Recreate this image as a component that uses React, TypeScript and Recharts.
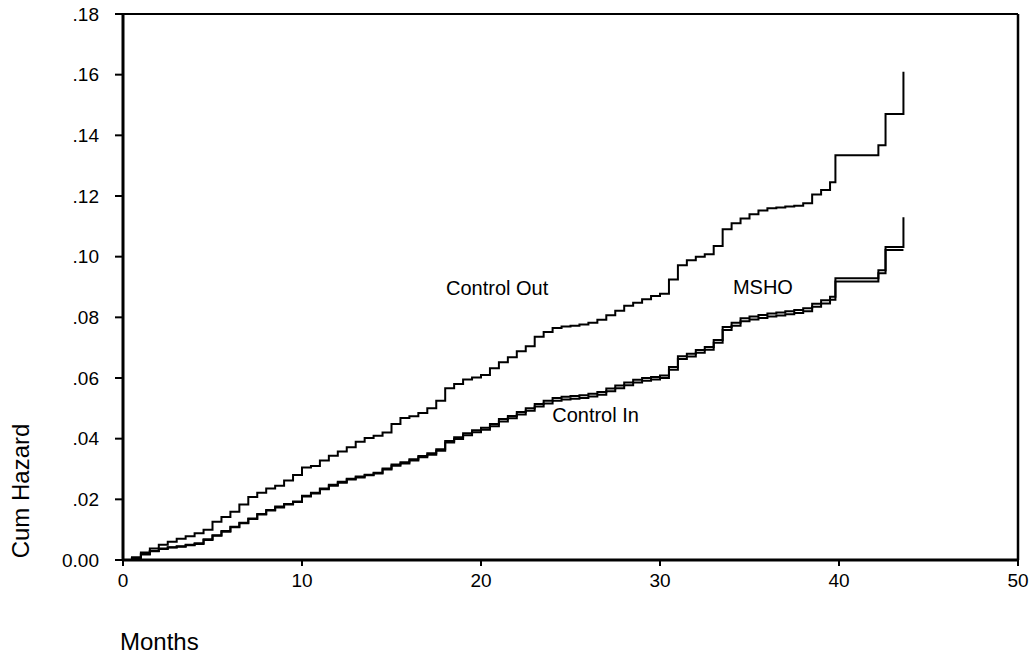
import React from 'react';
import { LineChart, Line, XAxis, YAxis, ReferenceLine, ReferenceDot } from 'recharts';

const months = [
  0, 0.5, 1, 1.5, 2, 2.5, 3, 3.5, 4, 4.5, 5, 5.5, 6, 6.5, 7, 7.5, 8, 8.5, 9, 9.5,
  10, 10.5, 11, 11.5, 12, 12.5, 13, 13.5, 14, 14.5, 15, 15.5, 16, 16.5, 17, 17.5, 18, 18.5, 19, 19.5,
  20, 20.5, 21, 21.5, 22, 22.5, 23, 23.5, 24, 24.5, 25, 25.5, 26, 26.5, 27, 27.5, 28, 28.5, 29, 29.5,
  30, 30.5, 31, 31.5, 32, 32.5, 33, 33.5, 34, 34.5, 35, 35.5, 36, 36.5, 37, 37.5, 38, 38.5, 39, 39.5,
  39.8, 42.2, 42.6, 43.6,
];

const controlOut = [
  0, 0.0008, 0.0025, 0.0038, 0.005, 0.006, 0.007, 0.0078, 0.0088, 0.01, 0.0126, 0.0142, 0.0159, 0.0183, 0.0208, 0.0222, 0.0236, 0.0245, 0.0262, 0.028,
  0.0305, 0.031, 0.0328, 0.0344, 0.0358, 0.0372, 0.039, 0.0402, 0.041, 0.042, 0.0448, 0.0468, 0.0474, 0.0485, 0.05, 0.0525, 0.0566, 0.058, 0.0595, 0.0602,
  0.061, 0.0632, 0.0652, 0.0668, 0.0688, 0.0705, 0.0736, 0.0752, 0.0765, 0.077, 0.0772, 0.0776, 0.0782, 0.0792, 0.0807, 0.0822, 0.0838, 0.0848, 0.086, 0.087,
  0.0878, 0.0925, 0.0972, 0.0988, 0.1, 0.1008, 0.1035, 0.109, 0.111, 0.1126, 0.114, 0.1152, 0.116, 0.1162, 0.1165, 0.1168, 0.1176, 0.1205, 0.122, 0.1245,
  0.1334, 0.1367, 0.147, 0.161,
];

const msho = [
  0, 0.0008, 0.002, 0.003, 0.0038, 0.0042, 0.0045, 0.005, 0.0055, 0.0068, 0.0082, 0.0096, 0.011, 0.0123, 0.0137, 0.0152, 0.0165, 0.0176, 0.0185, 0.0193,
  0.0212, 0.0222, 0.0236, 0.0248, 0.0258, 0.0268, 0.0275, 0.0281, 0.0288, 0.0302, 0.0315, 0.0322, 0.0332, 0.0343, 0.0352, 0.0365, 0.0392, 0.0405, 0.0418, 0.0428,
  0.0436, 0.0448, 0.0465, 0.0475, 0.0488, 0.05, 0.0514, 0.0525, 0.0534, 0.0538, 0.0541, 0.0543, 0.0548, 0.0554, 0.0565, 0.0575, 0.0585, 0.0594, 0.06, 0.0603,
  0.0608, 0.0636, 0.0672, 0.068, 0.0692, 0.0702, 0.0725, 0.0768, 0.0782, 0.0797, 0.0803, 0.0808, 0.0813, 0.0816, 0.082, 0.0824, 0.083, 0.0845, 0.0856, 0.0868,
  0.0929, 0.0955, 0.1032, 0.113,
];

const controlIn = [
  0, 0.0006, 0.0018, 0.0029, 0.0036, 0.0041, 0.0044, 0.0049, 0.0053, 0.0066, 0.008, 0.0093, 0.0108, 0.0121, 0.0135, 0.015, 0.0163, 0.0173, 0.0183, 0.0191,
  0.0209, 0.0219, 0.0233, 0.0245, 0.0255, 0.0265, 0.0272, 0.0279, 0.0285, 0.0298, 0.0311, 0.0318, 0.0328, 0.0339, 0.0347, 0.036, 0.0387, 0.0399, 0.0411, 0.0421,
  0.0429, 0.0441, 0.0457, 0.0467, 0.048, 0.0492, 0.0506, 0.0516, 0.0525, 0.0529, 0.0532, 0.0534, 0.0539, 0.0545, 0.0556, 0.0566, 0.0576, 0.0585, 0.0591, 0.0595,
  0.06, 0.0627, 0.0663, 0.0671, 0.0683, 0.0693, 0.0716, 0.0758, 0.0772, 0.0787, 0.0793, 0.0798, 0.0803, 0.0806, 0.081, 0.0814, 0.082, 0.0835, 0.0846, 0.0858,
  0.0918, 0.0945, 0.1022, 0.1022,
];

const xTicks = [0, 10, 20, 30, 40, 50];
const yTicks = [0, 0.02, 0.04, 0.06, 0.08, 0.1, 0.12, 0.14, 0.16, 0.18];

// label anchors in data units (month, hazard)
const seriesLabels = [
  { name: 'Control Out', m: 20.9, v: 0.0898 },
  { name: 'MSHO', m: 35.75, v: 0.0899 },
  { name: 'Control In', m: 26.4, v: 0.0478 },
];

const data = months.map((m, i) => ({
  month: m,
  controlOut: controlOut[i],
  msho: msho[i],
  controlIn: controlIn[i],
}));

const FONT = '"Liberation Sans", Arial, sans-serif';

const fmtY = (v: number) => (v === 0 ? '0.00' : v.toFixed(2).replace(/^0/, ''));

export default function App() {
  return (
    <div style={{ position: 'absolute', left: 0, top: 0, width: 1032, height: 658, background: '#fff', fontFamily: FONT }}>
      <LineChart width={1032} height={658} data={data} margin={{ top: 14, right: 14, bottom: 68, left: 0 }}>
        <XAxis
          dataKey="month"
          type="number"
          domain={[0, 50]}
          ticks={xTicks}
          height={30}
          tickSize={6}
          tickMargin={8}
          axisLine={{ stroke: '#000', strokeWidth: 3 }}
          tickLine={{ stroke: '#000', strokeWidth: 2 }}
          tick={{ fill: '#000', fontSize: 19, fontFamily: FONT }}
        />
        <YAxis
          type="number"
          domain={[0, 0.18]}
          ticks={yTicks}
          width={123}
          tickSize={8}
          tickMargin={16}
          tickFormatter={fmtY}
          axisLine={{ stroke: '#000', strokeWidth: 3 }}
          tickLine={{ stroke: '#000', strokeWidth: 2 }}
          tick={{ fill: '#000', fontSize: 19, fontFamily: FONT }}
        />
        <ReferenceLine y={0.18} stroke="#000" strokeWidth={2} />
        <ReferenceLine x={50} stroke="#000" strokeWidth={2.5} />
        <Line dataKey="controlOut" type="stepAfter" stroke="#000" strokeWidth={2} dot={false} isAnimationActive={false} />
        <Line dataKey="msho" type="stepAfter" stroke="#000" strokeWidth={2} dot={false} isAnimationActive={false} />
        <Line dataKey="controlIn" type="stepAfter" stroke="#000" strokeWidth={2} dot={false} isAnimationActive={false} />
        {seriesLabels.map((l) => (
          <ReferenceDot
            key={l.name}
            x={l.m}
            y={l.v}
            r={0}
            stroke="none"
            label={{ value: l.name, position: 'center', fill: '#000', fontSize: 20, fontFamily: FONT }}
          />
        ))}
      </LineChart>
      <div
        style={{
          position: 'absolute',
          left: 21,
          top: 491,
          transform: 'translate(-50%, -50%) rotate(-90deg)',
          fontSize: 24,
          whiteSpace: 'nowrap',
          color: '#000',
        }}
      >
        Cum Hazard
      </div>
      <div style={{ position: 'absolute', left: 120, top: 628, fontSize: 24, color: '#000', whiteSpace: 'nowrap' }}>
        Months
      </div>
    </div>
  );
}
